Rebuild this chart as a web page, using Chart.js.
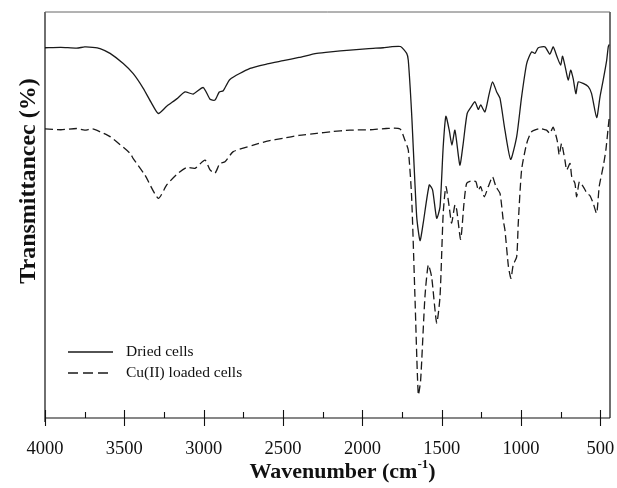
<!DOCTYPE html>
<html><head><meta charset="utf-8">
<script src="https://cdn.jsdelivr.net/npm/chart.js@4"></script>
<style>html,body{margin:0;padding:0;background:#fff;}canvas{display:block;}</style>
</head><body>
<canvas id="c" width="617" height="488"></canvas>
<script>
// ---- data (wavenumber cm-1, transmittance arbitrary %) ----
const seriesNames = ['Dried cells', 'Cu(II) loaded cells'];
const xTickLabels = [4000, 3500, 3000, 2500, 2000, 1500, 1000, 500];
const xMinorTicks = [3750, 3250, 2750, 2250, 1750, 1250, 750];

const wnDried = [4000,3900,3800,3750,3700,3653,3590,3507,3444,3381,3328,3286,3233,3170,3118,3066,3003,2960,2929,2902,2877,2835,2708,2600,2499,2400,2288,2200,2078,1960,1869,1826,1760,1721,1711,1690,1658,1637,1617,1579,1558,1532,1511,1491,1474,1453,1436,1417,1386,1365,1340,1312,1291,1270,1255,1228,1201,1180,1154,1133,1102,1066,1028,997,965,934,913,892,850,819,798,773,751,739,718,703,688,672,655,640,609,577,556,524,503,483,461,451,445];
const tDried = [91.2,91.3,91.1,91.4,91.3,91.0,89.8,87.3,84.8,81.2,77.5,75.0,76.8,78.6,80.3,79.8,81.4,78.5,78.3,80.3,80.6,83.4,86.1,87.2,88.0,88.8,89.8,90.2,90.6,91.0,91.2,91.4,91.5,89.8,88.1,75.1,49.6,43.7,48.0,57.4,56.2,49.2,52.0,66.8,74.3,70.9,67.2,70.9,62.3,67.6,75.0,76.8,77.9,76.0,77.1,75.4,79.9,82.8,80.3,78.7,70.9,63.7,69.3,79.1,87.3,90.2,89.8,91.2,91.4,89.6,91.4,88.9,86.9,89.1,85.7,83.2,85.7,83.6,79.9,82.8,82.4,81.6,79.9,74.0,79.1,83.2,88.1,91.4,92.0];

const wnCu = [4000,3900,3800,3750,3700,3653,3590,3464,3444,3370,3286,3233,3170,3107,3055,2992,2960,2929,2898,2866,2814,2688,2600,2499,2400,2288,2200,2078,1950,1850,1763,1732,1711,1690,1669,1648,1633,1606,1585,1564,1532,1511,1491,1474,1453,1438,1417,1406,1381,1360,1343,1312,1285,1270,1255,1232,1207,1180,1159,1133,1113,1102,1080,1064,1050,1028,1018,997,965,934,882,840,819,798,773,760,745,724,713,692,681,661,650,633,609,584,567,546,524,508,483,466,451,445];
const tCu = [71.2,71.0,71.3,70.9,71.2,70.5,69.3,65.2,63.9,59.8,54.1,57.4,60.0,61.7,61.5,63.5,61.1,60.3,62.7,63.1,65.6,67.2,68.2,68.9,69.6,70.1,70.5,70.9,71.0,71.3,71.2,68.4,66.0,54.5,29.9,5.7,9.4,29.9,37.7,34.8,23.4,29.9,50.4,57.0,52.0,48.0,52.5,51.3,44.0,52.9,57.8,58.4,58.2,56.1,57.0,54.5,57.0,59.4,57.0,55.3,48.8,46.3,37.3,34.4,37.7,39.7,48.0,61.1,67.6,70.5,71.3,70.9,70.1,71.6,68.4,64.8,67.6,63.5,61.1,62.7,59.4,57.8,54.5,58.2,57.0,55.3,54.8,52.9,50.4,57.0,61.9,66.0,71.7,73.9];

const pts = (xs, ys) => xs.map((x, i) => ({x: x, y: ys[i]}));
const SERIF = '"Liberation Serif", "Times New Roman", serif';

const decor = {
  id: 'decor',
  afterDraw(chart) {
    const ctx = chart.ctx, a = chart.chartArea, xs = chart.scales.x;
    ctx.save();
    // frame
    ctx.strokeStyle = '#111'; ctx.lineWidth = 1.2;
    ctx.beginPath();
    ctx.moveTo(a.left, a.bottom); ctx.lineTo(a.right, a.bottom);
    ctx.moveTo(a.left, a.top); ctx.lineTo(a.left, a.bottom + 4);
    ctx.moveTo(a.right, a.top); ctx.lineTo(a.right, a.bottom);
    ctx.stroke();
    ctx.strokeStyle = '#666'; ctx.lineWidth = 1;
    ctx.beginPath(); ctx.moveTo(a.left, a.top); ctx.lineTo(a.right, a.top); ctx.stroke();
    // ticks
    ctx.strokeStyle = '#111'; ctx.lineWidth = 1.1;
    ctx.beginPath();
    xTickLabels.forEach(v => { const p = Math.round(xs.getPixelForValue(v)) + 0.5; ctx.moveTo(p, a.bottom - 8); ctx.lineTo(p, a.bottom + 8); });
    xMinorTicks.forEach(v => { const p = Math.round(xs.getPixelForValue(v)) + 0.5; ctx.moveTo(p, a.bottom - 6); ctx.lineTo(p, a.bottom); });
    ctx.stroke();
    // x title with superscript
    ctx.fillStyle = '#111';
    ctx.textBaseline = 'alphabetic';
    const f1 = 'bold 22px ' + SERIF, f2 = 'bold 13px ' + SERIF;
    const p1 = 'Wavenumber (cm', sup = '-1', p3 = ')';
    ctx.font = f1; const w1 = ctx.measureText(p1).width, w3 = ctx.measureText(p3).width;
    ctx.font = f2; const w2 = ctx.measureText(sup).width;
    let x0 = 342.5 - (w1 + w2 + w3) / 2; const yb = 478;
    ctx.font = f1; ctx.textAlign = 'left'; ctx.fillText(p1, x0, yb);
    ctx.font = f2; ctx.fillText(sup, x0 + w1, yb - 10);
    ctx.font = f1; ctx.fillText(p3, x0 + w1 + w2, yb);
    // y title
    ctx.save();
    ctx.translate(35, 181); ctx.rotate(-Math.PI / 2);
    ctx.font = 'bold 24px ' + SERIF; ctx.textAlign = 'center'; ctx.textBaseline = 'alphabetic';
    ctx.fillText('Transmittancec (%)', 0, 0);
    ctx.restore();
    // legend
    const rows = [352, 373];
    chart.data.datasets.forEach((ds, i) => {
      ctx.strokeStyle = ds.borderColor; ctx.lineWidth = 1.3;
      ctx.setLineDash(i === 1 ? [10, 5] : []);
      ctx.beginPath(); ctx.moveTo(68, rows[i]); ctx.lineTo(113, rows[i]); ctx.stroke();
      ctx.setLineDash([]);
      ctx.font = '15.5px ' + SERIF; ctx.textAlign = 'left'; ctx.textBaseline = 'middle';
      ctx.fillText(ds.label, 126, rows[i]);
    });
    ctx.restore();
  }
};

new Chart(document.getElementById('c'), {
  type: 'line',
  data: {
    datasets: [
      {label: seriesNames[0], data: pts(wnDried, tDried), borderColor: '#1a1a1a', borderWidth: 1.3, pointRadius: 0, tension: 0.2, fill: false},
      {label: seriesNames[1], data: pts(wnCu, tCu), borderColor: '#1a1a1a', borderWidth: 1.3, borderDash: [8, 4], pointRadius: 0, tension: 0.2, fill: false}
    ]
  },
  options: {
    responsive: false, animation: false, devicePixelRatio: 1,
    layout: {padding: {left: 0, right: 7, top: 12, bottom: 0}},
    scales: {
      x: {
        type: 'linear', reverse: true, min: 440, max: 4000,
        afterBuildTicks: s => { s.ticks = xTickLabels.map(v => ({value: v})); },
        afterFit: s => { s.height = 70; s.paddingLeft = 0; s.paddingRight = 0; },
        grid: {display: false, drawTicks: false},
        border: {display: false},
        ticks: {padding: 20, autoSkip: false, maxRotation: 0, color: '#111', font: {family: SERIF, size: 18.5}, callback: v => String(v)}
      },
      y: {
        min: 0, max: 100,
        afterFit: s => { s.width = 45; s.paddingTop = 0; s.paddingBottom = 0; },
        grid: {display: false, drawTicks: false},
        border: {display: false},
        ticks: {display: false}
      }
    },
    plugins: {legend: {display: false}, tooltip: {enabled: false}}
  },
  plugins: [decor]
});
</script>
</body></html>
